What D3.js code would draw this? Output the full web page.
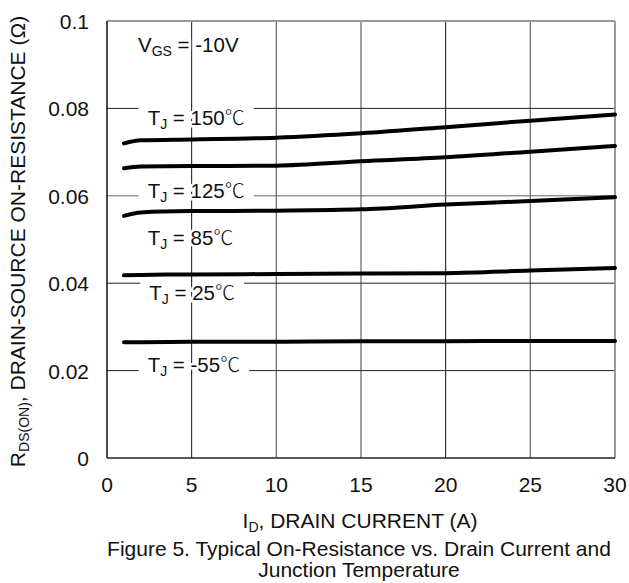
<!DOCTYPE html>
<html lang="en">
<head>
<meta charset="utf-8">
<title>Figure 5</title>
<style>
  body { margin: 0; background: #fff; }
  svg text { font-family: "Liberation Sans", Arial, sans-serif; fill: #111; }
  .deg { font-family: "Noto Sans CJK SC", "DejaVu Sans", sans-serif; font-weight: 300; }
</style>
<script src="https://d3js.org/d3.v7.min.js"></script>
</head>
<body>
<svg id="chart" width="629" height="583"></svg>
<script>
// drain current (A) at which the curves were read
var currents = [1, 2, 5, 10, 15, 20, 25, 30];
// on-resistance (ohm), one array per curve, top to bottom
var curveA = [0.0720, 0.0727, 0.0729, 0.0733, 0.0743, 0.0757, 0.0772, 0.0786];
var curveB = [0.0663, 0.0667, 0.0668, 0.0669, 0.0679, 0.0688, 0.0701, 0.0714];
var curveC = [0.0554, 0.0562, 0.0565, 0.0566, 0.0569, 0.0580, 0.0588, 0.0597];
var curveD = [0.0418, 0.0419, 0.0420, 0.0421, 0.0422, 0.0423, 0.0429, 0.0435];
var curveE = [0.0265, 0.0265, 0.0266, 0.0266, 0.0267, 0.0267, 0.0268, 0.0268];
var curves = [curveA, curveB, curveC, curveD, curveE];

var xTicks = [0, 5, 10, 15, 20, 25, 30];
var yTicks = [0, 0.02, 0.04, 0.06, 0.08, 0.1];
var yTickLabels = ["0", "0.02", "0.04", "0.06", "0.08", "0.1"];
var hGrid = [0.02, 0.04, 0.06, 0.08];

// temperature labels: text, anchor current, anchor resistance (baseline)
var tempLabels = ["150", "125", "85", "25", "-55"];
var labelAt = [[2.4, 0.0762], [2.4, 0.0595], [2.4, 0.0487], [2.5, 0.0362], [2.4, 0.0197]];

var margin = {left: 107, top: 21, right: 14, bottom: 125};
var W = 629, H = 583;
var svg = d3.select("#chart");

var x = d3.scaleLinear().domain([0, 30]).range([margin.left, W - margin.right]);
var y = d3.scaleLinear().domain([0, 0.1]).range([H - margin.bottom, margin.top]);

var g = svg.append("g");

// grid
var vColor = {5: "#111", 10: "#777", 15: "#777", 20: "#111", 25: "#777"};
g.selectAll(".vgrid").data([5, 10, 15, 20, 25]).enter().append("line")
  .attr("x1", function(d) { return x(d); }).attr("x2", function(d) { return x(d); })
  .attr("y1", y(0)).attr("y2", y(0.1))
  .attr("stroke", function(d) { return vColor[d]; })
  .attr("stroke-width", function(d) { return vColor[d] == "#777" ? 1.4 : 1; });

g.selectAll(".hgrid").data(hGrid).enter().append("line")
  .attr("x1", x(0)).attr("x2", x(30))
  .attr("y1", function(d) { return y(d); }).attr("y2", function(d) { return y(d); })
  .attr("stroke", function(d) { return d == 0.06 ? "#666" : "#222"; })
  .attr("stroke-width", 1);

// layer for the gaps cut into horizontal grid lines by labels
var gaps = g.append("g");

// frame
g.append("line").attr("x1", x(0)).attr("x2", x(30)).attr("y1", y(0.1)).attr("y2", y(0.1))
  .attr("stroke", "#999").attr("stroke-width", 2);
g.append("line").attr("x1", x(30)).attr("x2", x(30)).attr("y1", y(0)).attr("y2", y(0.1))
  .attr("stroke", "#999").attr("stroke-width", 2);
g.append("line").attr("x1", x(0)).attr("x2", x(30)).attr("y1", y(0)).attr("y2", y(0))
  .attr("stroke", "#222").attr("stroke-width", 1.5);
g.append("line").attr("x1", x(0)).attr("x2", x(0)).attr("y1", y(0)).attr("y2", y(0.1))
  .attr("stroke", "#111").attr("stroke-width", 1.5);

// curves
var line = d3.line()
  .x(function(d, i) { return x(currents[i]); })
  .y(function(d) { return y(d); })
  .curve(d3.curveMonotoneX);

g.selectAll(".curve").data(curves).enter().append("path")
  .attr("d", line)
  .attr("fill", "none")
  .attr("stroke", "#000")
  .attr("stroke-width", 4)
  .attr("stroke-linecap", "round");

// annotations
function addLabel(tx, ty, main, sub, rest, unit) {
  var t = g.append("text")
    .attr("x", x(tx)).attr("y", y(ty))
    .attr("font-size", 20.5)
    .attr("stroke", "#fff").attr("stroke-width", 5)
    .style("paint-order", "stroke");
  t.append("tspan").text(main);
  t.append("tspan").attr("font-size", 14).attr("dy", 4).text(sub);
  t.append("tspan").attr("dy", -4).text(rest);
  if (unit) t.append("tspan").attr("class", "deg").attr("font-size", 20).text(unit);
  var bb = t.node().getBBox();
  // blank any horizontal grid line running near the label
  hGrid.forEach(function(v) {
    var gy = y(v);
    if (gy > bb.y - 8 && gy < bb.y + bb.height) {
      gaps.append("rect")
        .attr("x", bb.x - 9).attr("y", gy - 2)
        .attr("width", bb.width + 18).attr("height", 4)
        .attr("fill", "#fff");
    }
  });
  return t;
}

for (var i = 0; i < tempLabels.length; i++) {
  addLabel(labelAt[i][0], labelAt[i][1], "T", "J", " = " + tempLabels[i], "\u2103");
}
addLabel(1.83, 0.093, "V", "GS", " = -10V", null);

// vertical grid line at 5 A stays visible through the gaps
gaps.append("g").selectAll("line").data(hGrid).enter().append("line")
  .attr("x1", x(5)).attr("x2", x(5))
  .attr("y1", function(d) { return y(d) - 3; }).attr("y2", function(d) { return y(d) + 3; })
  .attr("stroke", vColor[5]).attr("stroke-width", 1);

// tick labels
svg.selectAll(".ylab").data(yTicks).enter().append("text")
  .attr("x", 89).attr("y", function(d) { return y(d) + 8; })
  .attr("text-anchor", "end").attr("font-size", 21)
  .text(function(d, i) { return yTickLabels[i]; });

svg.selectAll(".xlab").data(xTicks).enter().append("text")
  .attr("x", function(d) { return x(d); }).attr("y", 492)
  .attr("text-anchor", "middle").attr("font-size", 21)
  .text(function(d) { return d; });

// axis titles
var xt = svg.append("text").attr("x", 360).attr("y", 528)
  .attr("text-anchor", "middle").attr("font-size", 21);
xt.append("tspan").text("I");
xt.append("tspan").attr("font-size", 14).attr("dy", 4).text("D");
xt.append("tspan").attr("dy", -4).text(", DRAIN CURRENT (A)");

var yt = svg.append("text")
  .attr("transform", "translate(25," + ((y(0) + y(0.1)) / 2 + 2) + ") rotate(-90)")
  .attr("text-anchor", "middle").attr("font-size", 21);
yt.append("tspan").text("R");
yt.append("tspan").attr("font-size", 14).attr("dy", 4).text("DS(ON)");
yt.append("tspan").attr("dy", -4).text(",  DRAIN-SOURCE ON-RESISTANCE (\u03A9)");

svg.append("text").attr("x", 359).attr("y", 556)
  .attr("text-anchor", "middle").attr("font-size", 21)
  .text("Figure 5. Typical On-Resistance vs. Drain Current and");
svg.append("text").attr("x", 359).attr("y", 577)
  .attr("text-anchor", "middle").attr("font-size", 21)
  .text("Junction Temperature");
</script>
</body>
</html>
